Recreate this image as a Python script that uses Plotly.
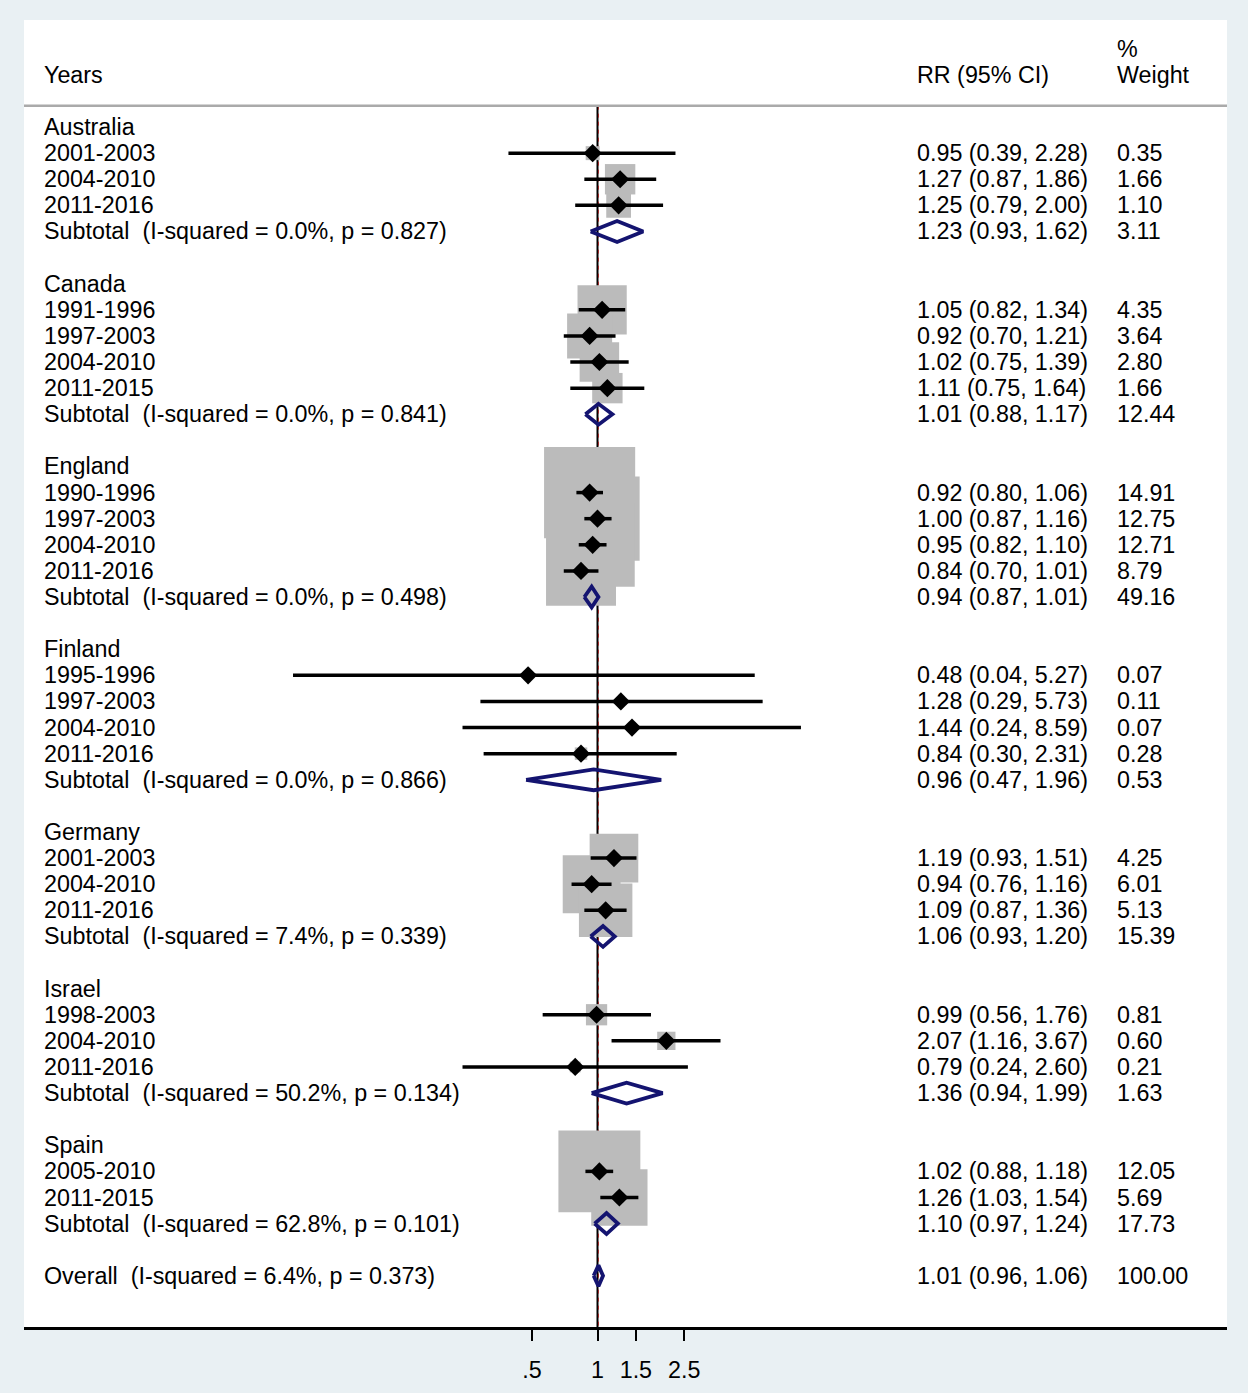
import math
import plotly.graph_objects as go

# study-level data, one list per country
countries = ["Australia", "Canada", "England", "Finland", "Germany", "Israel", "Spain"]
periods = [
    ["2001-2003", "2004-2010", "2011-2016"],
    ["1991-1996", "1997-2003", "2004-2010", "2011-2015"],
    ["1990-1996", "1997-2003", "2004-2010", "2011-2016"],
    ["1995-1996", "1997-2003", "2004-2010", "2011-2016"],
    ["2001-2003", "2004-2010", "2011-2016"],
    ["1998-2003", "2004-2010", "2011-2016"],
    ["2005-2010", "2011-2015"],
]
rr = [
    [0.95, 1.27, 1.25],
    [1.05, 0.92, 1.02, 1.11],
    [0.92, 1.00, 0.95, 0.84],
    [0.48, 1.28, 1.44, 0.84],
    [1.19, 0.94, 1.09],
    [0.99, 2.07, 0.79],
    [1.02, 1.26],
]
ci_lo = [
    [0.39, 0.87, 0.79],
    [0.82, 0.70, 0.75, 0.75],
    [0.80, 0.87, 0.82, 0.70],
    [0.04, 0.29, 0.24, 0.30],
    [0.93, 0.76, 0.87],
    [0.56, 1.16, 0.24],
    [0.88, 1.03],
]
ci_hi = [
    [2.28, 1.86, 2.00],
    [1.34, 1.21, 1.39, 1.64],
    [1.06, 1.16, 1.10, 1.01],
    [5.27, 5.73, 8.59, 2.31],
    [1.51, 1.16, 1.36],
    [1.76, 3.67, 2.60],
    [1.18, 1.54],
]
weights = [
    [0.35, 1.66, 1.10],
    [4.35, 3.64, 2.80, 1.66],
    [14.91, 12.75, 12.71, 8.79],
    [0.07, 0.11, 0.07, 0.28],
    [4.25, 6.01, 5.13],
    [0.81, 0.60, 0.21],
    [12.05, 5.69],
]

# subtotals per country
sub_i2 = [0.0, 0.0, 0.0, 0.0, 7.4, 50.2, 62.8]
sub_p = [0.827, 0.841, 0.498, 0.866, 0.339, 0.134, 0.101]
sub_rr = [1.23, 1.01, 0.94, 0.96, 1.06, 1.36, 1.10]
sub_lo = [0.93, 0.88, 0.87, 0.47, 0.93, 0.94, 0.97]
sub_hi = [1.62, 1.17, 1.01, 1.96, 1.20, 1.99, 1.24]
sub_wt = [3.11, 12.44, 49.16, 0.53, 15.39, 1.63, 17.73]

# overall
overall_i2 = 6.4
overall_p = 0.373
overall_rr = 1.01
overall_lo = 0.96
overall_hi = 1.06
overall_wt = 100.00

tick_vals = [0.5, 1, 1.5, 2.5]
tick_text = [".5", "1", "1.5", "2.5"]

W, H = 1248, 1393
FONT = "Liberation Sans, Arial, sans-serif"
FS = 23.3
NAVY = "#141470"
BOX = "#BBBBBB"
BG = "#E9F0F3"

X_LABEL = 42 / W
X_RR = 915 / W
X_WT = 1115 / W


def rr_txt(e, lo, hi):
    return f"{e:.2f} ({lo:.2f}, {hi:.2f})"


# lay out rows
texts = []  # (row, label, rr text, weight text)
st_rows, st_rr, st_lo, st_hi, st_wt = [], [], [], [], []
dia_rows, dia_rr, dia_lo, dia_hi = [], [], [], []

r = 0
for g, name in enumerate(countries):
    texts.append((r, name, "", ""))
    for k, per in enumerate(periods[g]):
        r += 1
        texts.append((r, per, rr_txt(rr[g][k], ci_lo[g][k], ci_hi[g][k]), f"{weights[g][k]:.2f}"))
        st_rows.append(r)
        st_rr.append(rr[g][k])
        st_lo.append(ci_lo[g][k])
        st_hi.append(ci_hi[g][k])
        st_wt.append(weights[g][k])
    r += 1
    texts.append((r, f"Subtotal\u00a0 (I-squared = {sub_i2[g]:.1f}%, p = {sub_p[g]:.3f})",
                  rr_txt(sub_rr[g], sub_lo[g], sub_hi[g]), f"{sub_wt[g]:.2f}"))
    dia_rows.append(r)
    dia_rr.append(sub_rr[g])
    dia_lo.append(sub_lo[g])
    dia_hi.append(sub_hi[g])
    r += 2

texts.append((r, f"Overall\u00a0 (I-squared = {overall_i2:.1f}%, p = {overall_p:.3f})",
              rr_txt(overall_rr, overall_lo, overall_hi), f"{overall_wt:.2f}"))
dia_rows.append(r)
dia_rr.append(overall_rr)
dia_lo.append(overall_lo)
dia_hi.append(overall_hi)

fig = go.Figure()

# weight boxes
fig.add_trace(go.Scatter(
    x=st_rr, y=st_rows, mode="markers",
    marker=dict(symbol="square", color=BOX, opacity=1,
                size=[23.6 * math.sqrt(w) for w in st_wt], line=dict(width=0)),
    hoverinfo="skip",
))

# confidence intervals
cx, cy = [], []
for row, lo, hi in zip(st_rows, st_lo, st_hi):
    cx += [lo, hi, None]
    cy += [row, row, None]
fig.add_trace(go.Scatter(x=cx, y=cy, mode="lines", line=dict(color="black", width=3.5),
                         hoverinfo="skip"))

# point estimates
fig.add_trace(go.Scatter(
    x=st_rr, y=st_rows, mode="markers",
    marker=dict(symbol="diamond", color="black", size=14, opacity=1, line=dict(width=0)),
    hoverinfo="skip",
))

# pooled diamonds
h = 0.4
dx, dy = [], []
for row, e, lo, hi in zip(dia_rows, dia_rr, dia_lo, dia_hi):
    dx += [lo, e, hi, e, lo, None]
    dy += [row, row - h, row, row + h, row, None]
fig.add_trace(go.Scatter(x=dx, y=dy, mode="lines", line=dict(color=NAVY, width=3.8),
                         hoverinfo="skip"))

annotations = []


def add_text(x, y, s):
    annotations.append(dict(x=x, y=y, xref="paper", yref="y", text=s, showarrow=False,
                            xanchor="left", yanchor="middle",
                            font=dict(family=FONT, size=FS, color="black")))


add_text(X_LABEL, -2, "Years")
add_text(X_RR, -2, "RR (95% CI)")
add_text(X_WT, -3, "%")
add_text(X_WT, -2, "Weight")
for row, lab, rt, wt in texts:
    add_text(X_LABEL, row, lab)
    if rt:
        add_text(X_RR, row, rt)
        add_text(X_WT, row, wt)

y_top, y_bot = -4.1, 45.96
header_y = -0.82

shapes = [
    dict(type="line", xref="paper", yref="y", x0=24 / W, x1=1227 / W, y0=header_y, y1=header_y,
         line=dict(color="#AAAAAA", width=2.5)),
    dict(type="line", xref="x", yref="y", x0=1, x1=1, y0=header_y, y1=y_bot,
         line=dict(color="black", width=2), layer="below"),
    dict(type="line", xref="x", yref="y", x0=overall_rr, x1=overall_rr, y0=header_y, y1=y_bot,
         line=dict(color="#A02828", width=1, dash="4px,4px"), layer="below"),
]

fig.update_layout(
    width=W, height=H,
    margin=dict(l=0, r=0, t=0, b=0),
    paper_bgcolor=BG,
    plot_bgcolor="white",
    showlegend=False,
    annotations=annotations,
    shapes=shapes,
    xaxis=dict(
        type="log",
        domain=[24 / W, 1227 / W],
        range=[-2.633, 2.890],
        tickvals=tick_vals, ticktext=tick_text,
        ticks="outside", ticklen=11, tickwidth=2, tickcolor="black",
        showline=True, linecolor="black", linewidth=2.5,
        showgrid=False, zeroline=False,
        tickfont=dict(family=FONT, size=FS, color="black"),
        ticklabelstandoff=9,
        fixedrange=True,
    ),
    yaxis=dict(
        domain=[(H - 1327) / H, (H - 20) / H],
        range=[y_bot, y_top],
        visible=False, showgrid=False, zeroline=False,
        fixedrange=True,
    ),
)

# the page's default body margin would shift the figure by 8px
fig.write_html(
    "out.html",
    config={"displayModeBar": False},
    post_script="document.body.style.margin='0';document.body.style.background='" + BG + "';",
)
